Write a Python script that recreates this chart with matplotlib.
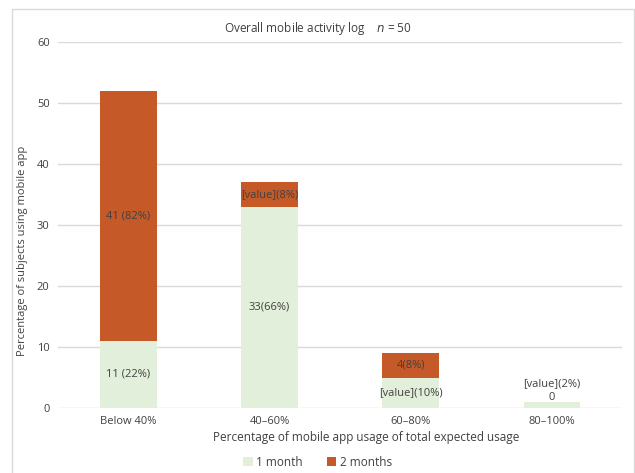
import matplotlib.pyplot as plt
import numpy as np

plt.rcParams['font.family'] = ['Open Sans', 'DejaVu Sans']

categories = ['Below 40%', '40\u201360%', '60\u201380%', '80\u2013100%']
one_month = [11, 33, 5, 1]
two_months = [41, 4, 4, 0]
labels_1 = ['11 (22%)', '33(66%)', '[value](10%)', '[value](2%)']
labels_2 = ['41 (82%)', '[value](8%)', '4(8%)', '0']

GREEN = '#E2EFDA'
ORANGE = '#C55A28'
TXT = '#404040'

fig = plt.figure(figsize=(6.35, 4.73), dpi=100)
ax = fig.add_axes([0.0913, 0.1374, 0.8887, 0.7736])

x = np.arange(len(categories))
w = 0.40
b1 = ax.bar(x, one_month, w, color=GREEN, label='1 month', zorder=2)
b2 = ax.bar(x, two_months, w, bottom=one_month, color=ORANGE, label='2 months', zorder=2)

ax.set_xlim(-0.5, len(categories) - 0.5)
ax.set_ylim(0, 60)
ax.set_yticks(range(0, 61, 10))
ax.set_xticks(x)
ax.set_xticklabels(categories)
ax.grid(axis='y', color='#D9D9D9', linewidth=1, zorder=0)
for s in ax.spines.values():
    s.set_visible(False)
ax.tick_params(length=0, labelsize=8, colors=TXT, pad=6)

# segment labels
for i in range(len(categories)):
    if one_month[i] >= 3:
        ax.text(x[i], one_month[i] / 2, labels_1[i], ha='center', va='center',
                fontsize=8, color=TXT, zorder=3)
    if two_months[i] > 0:
        ax.text(x[i], one_month[i] + two_months[i] / 2, labels_2[i], ha='center',
                va='center', fontsize=8, color=TXT, zorder=3)
# small last bar: labels above
ax.annotate(labels_2[3], (x[3], one_month[3]), xytext=(0, -0.5), textcoords='offset points',
            ha='center', va='bottom', fontsize=8, color=TXT, zorder=3)
ax.annotate(labels_1[3], (x[3], one_month[3]), xytext=(0, 9.5), textcoords='offset points',
            ha='center', va='bottom', fontsize=8, color=TXT, zorder=3)

ax.set_xlabel('Percentage of mobile app usage of total expected usage', fontsize=8.5,
              color=TXT)
ax.xaxis.set_label_coords(0.546, -0.063)
ax.set_ylabel('Percentage of subjects using mobile app', fontsize=8, color=TXT)
ax.yaxis.set_label_coords(-0.053, 0.429)

fig.text(0.5, 0.939, 'Overall mobile activity log    $n$ = 50', ha='center', va='center',
         fontsize=8.5, color=TXT)

leg = fig.legend(handles=[b1, b2], loc='center', bbox_to_anchor=(0.5, 0.023), ncol=2,
                 frameon=False, fontsize=8.5, handlelength=0.8, handleheight=0.8,
                 handletextpad=0.3, columnspacing=2.0)
for t in leg.get_texts():
    t.set_color(TXT)

# outer frame
fig.patches.append(plt.Rectangle((12 / 635, -0.01), 622 / 635, 1 - 9 / 473 + 0.01,
                                 transform=fig.transFigure, fill=False,
                                 edgecolor='#D9D9D9', linewidth=1))

fig.savefig('out.png', dpi=100)
